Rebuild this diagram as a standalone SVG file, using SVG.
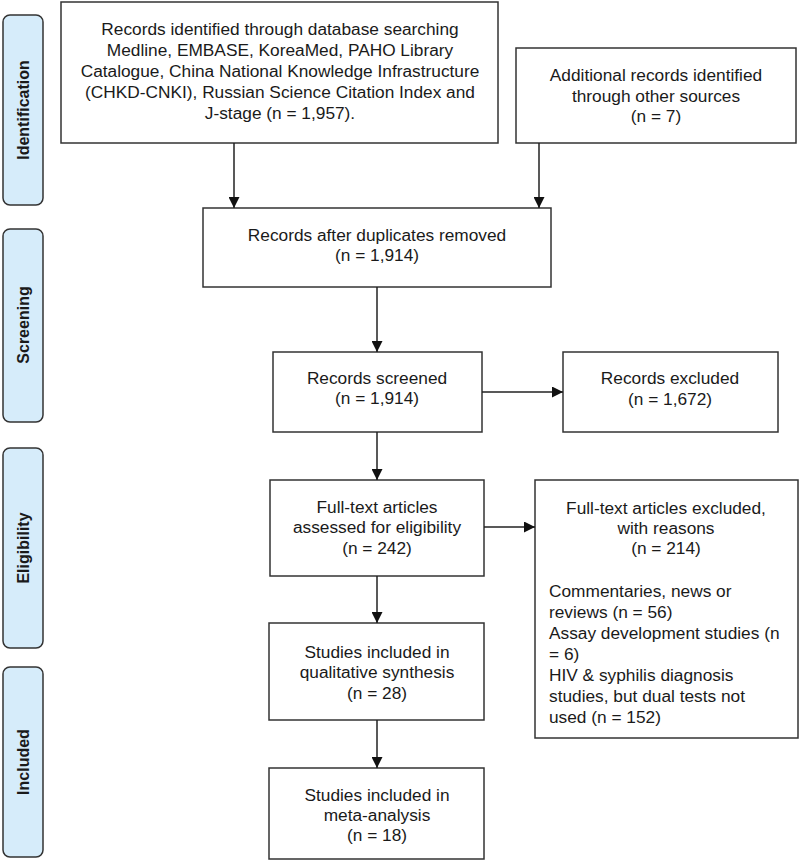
<svg xmlns="http://www.w3.org/2000/svg" width="800" height="862" viewBox="0 0 800 862">
<style>
.box{fill:#fff;stroke:#333;stroke-width:1.5}
.lab{fill:#d6ecfa;stroke:#333;stroke-width:1.5}
.t{font-family:"Liberation Sans",Arial,sans-serif;font-size:17.3px;fill:#1a1a1a;text-anchor:middle}
.l{text-anchor:start}
.s{font-family:"Liberation Sans",Arial,sans-serif;font-size:16px;font-weight:bold;fill:#1a1a1a;text-anchor:middle}
.c{fill:none;stroke:#222;stroke-width:1.5}
</style>
<defs>
<marker id="ah" viewBox="0 0 10 10" refX="10" refY="5" markerWidth="11" markerHeight="11" markerUnits="userSpaceOnUse" orient="auto">
<path d="M0,0 L10,5 L0,10 z" fill="#111"/>
</marker>
</defs>
<rect width="800" height="862" fill="#fff"/>
<g id="stage-identification">
<rect class="lab" x="3" y="15" width="40" height="190" rx="7"/>
<text class="s" transform="translate(29,110) rotate(-90)">Identification</text>
</g>
<g id="stage-screening">
<rect class="lab" x="3" y="229" width="40" height="193" rx="7"/>
<text class="s" transform="translate(29,325) rotate(-90)">Screening</text>
</g>
<g id="stage-eligibility">
<rect class="lab" x="3" y="448" width="40" height="200" rx="7"/>
<text class="s" transform="translate(29,548) rotate(-90)">Eligibility</text>
</g>
<g id="stage-included">
<rect class="lab" x="3" y="667" width="40" height="190" rx="7"/>
<text class="s" transform="translate(29,762) rotate(-90)">Included</text>
</g>
<g id="db-records">
<rect class="box" x="61" y="2" width="437" height="141"/>
<text class="t" x="280" y="35">Records identified through database searching</text>
<text class="t" x="280" y="56">Medline, EMBASE, KoreaMed, PAHO Library</text>
<text class="t" x="280" y="77">Catalogue, China National Knowledge Infrastructure</text>
<text class="t" x="280" y="98">(CHKD-CNKI), Russian Science Citation Index and</text>
<text class="t" x="280" y="119">J-stage (n = 1,957).</text>
</g>
<g id="other-records">
<rect class="box" x="516" y="48" width="280" height="95"/>
<text class="t" x="656" y="81">Additional records identified</text>
<text class="t" x="656" y="102">through other sources</text>
<text class="t" x="656" y="122">(n = 7)</text>
</g>
<g id="dedup">
<rect class="box" x="203" y="208" width="348" height="79"/>
<text class="t" x="377" y="241">Records after duplicates removed</text>
<text class="t" x="377" y="261">(n = 1,914)</text>
</g>
<g id="screened">
<rect class="box" x="273" y="352" width="209" height="80"/>
<text class="t" x="377" y="384">Records screened</text>
<text class="t" x="377" y="404">(n = 1,914)</text>
</g>
<g id="excluded">
<rect class="box" x="563" y="352" width="215" height="80"/>
<text class="t" x="670" y="384">Records excluded</text>
<text class="t" x="670" y="405">(n = 1,672)</text>
</g>
<g id="fulltext">
<rect class="box" x="270" y="480" width="214" height="96"/>
<text class="t" x="377" y="513">Full-text articles</text>
<text class="t" x="377" y="533">assessed for eligibility</text>
<text class="t" x="377" y="554">(n = 242)</text>
</g>
<g id="fulltext-excluded">
<rect class="box" x="535" y="480" width="263" height="258"/>
<text class="t" x="666" y="514">Full-text articles excluded,</text>
<text class="t" x="666" y="534">with reasons</text>
<text class="t" x="666" y="554">(n = 214)</text>
<text class="t l" x="549" y="597">Commentaries, news or</text>
<text class="t l" x="549" y="618">reviews (n = 56)</text>
<text class="t l" x="549" y="639">Assay development studies (n</text>
<text class="t l" x="549" y="660">= 6)</text>
<text class="t l" x="549" y="681">HIV &amp; syphilis diagnosis</text>
<text class="t l" x="549" y="702">studies, but dual tests not</text>
<text class="t l" x="549" y="723">used (n = 152)</text>
</g>
<g id="qualitative">
<rect class="box" x="269" y="623" width="215" height="97"/>
<text class="t" x="377" y="658">Studies included in</text>
<text class="t" x="377" y="678">qualitative synthesis</text>
<text class="t" x="377" y="699">(n = 28)</text>
</g>
<g id="meta">
<rect class="box" x="269" y="768" width="215" height="91"/>
<text class="t" x="377" y="801">Studies included in</text>
<text class="t" x="377" y="821">meta-analysis</text>
<text class="t" x="377" y="841">(n = 18)</text>
</g>
<g id="connectors">
<line class="c" x1="234" y1="143" x2="234" y2="208" marker-end="url(#ah)"/>
<line class="c" x1="539" y1="143" x2="539" y2="208" marker-end="url(#ah)"/>
<line class="c" x1="377" y1="287" x2="377" y2="352" marker-end="url(#ah)"/>
<line class="c" x1="482" y1="392" x2="563" y2="392" marker-end="url(#ah)"/>
<line class="c" x1="377" y1="432" x2="377" y2="480" marker-end="url(#ah)"/>
<line class="c" x1="484" y1="527" x2="535" y2="527" marker-end="url(#ah)"/>
<line class="c" x1="377" y1="576" x2="377" y2="623" marker-end="url(#ah)"/>
<line class="c" x1="377" y1="720" x2="377" y2="768" marker-end="url(#ah)"/>
</g>
</svg>
